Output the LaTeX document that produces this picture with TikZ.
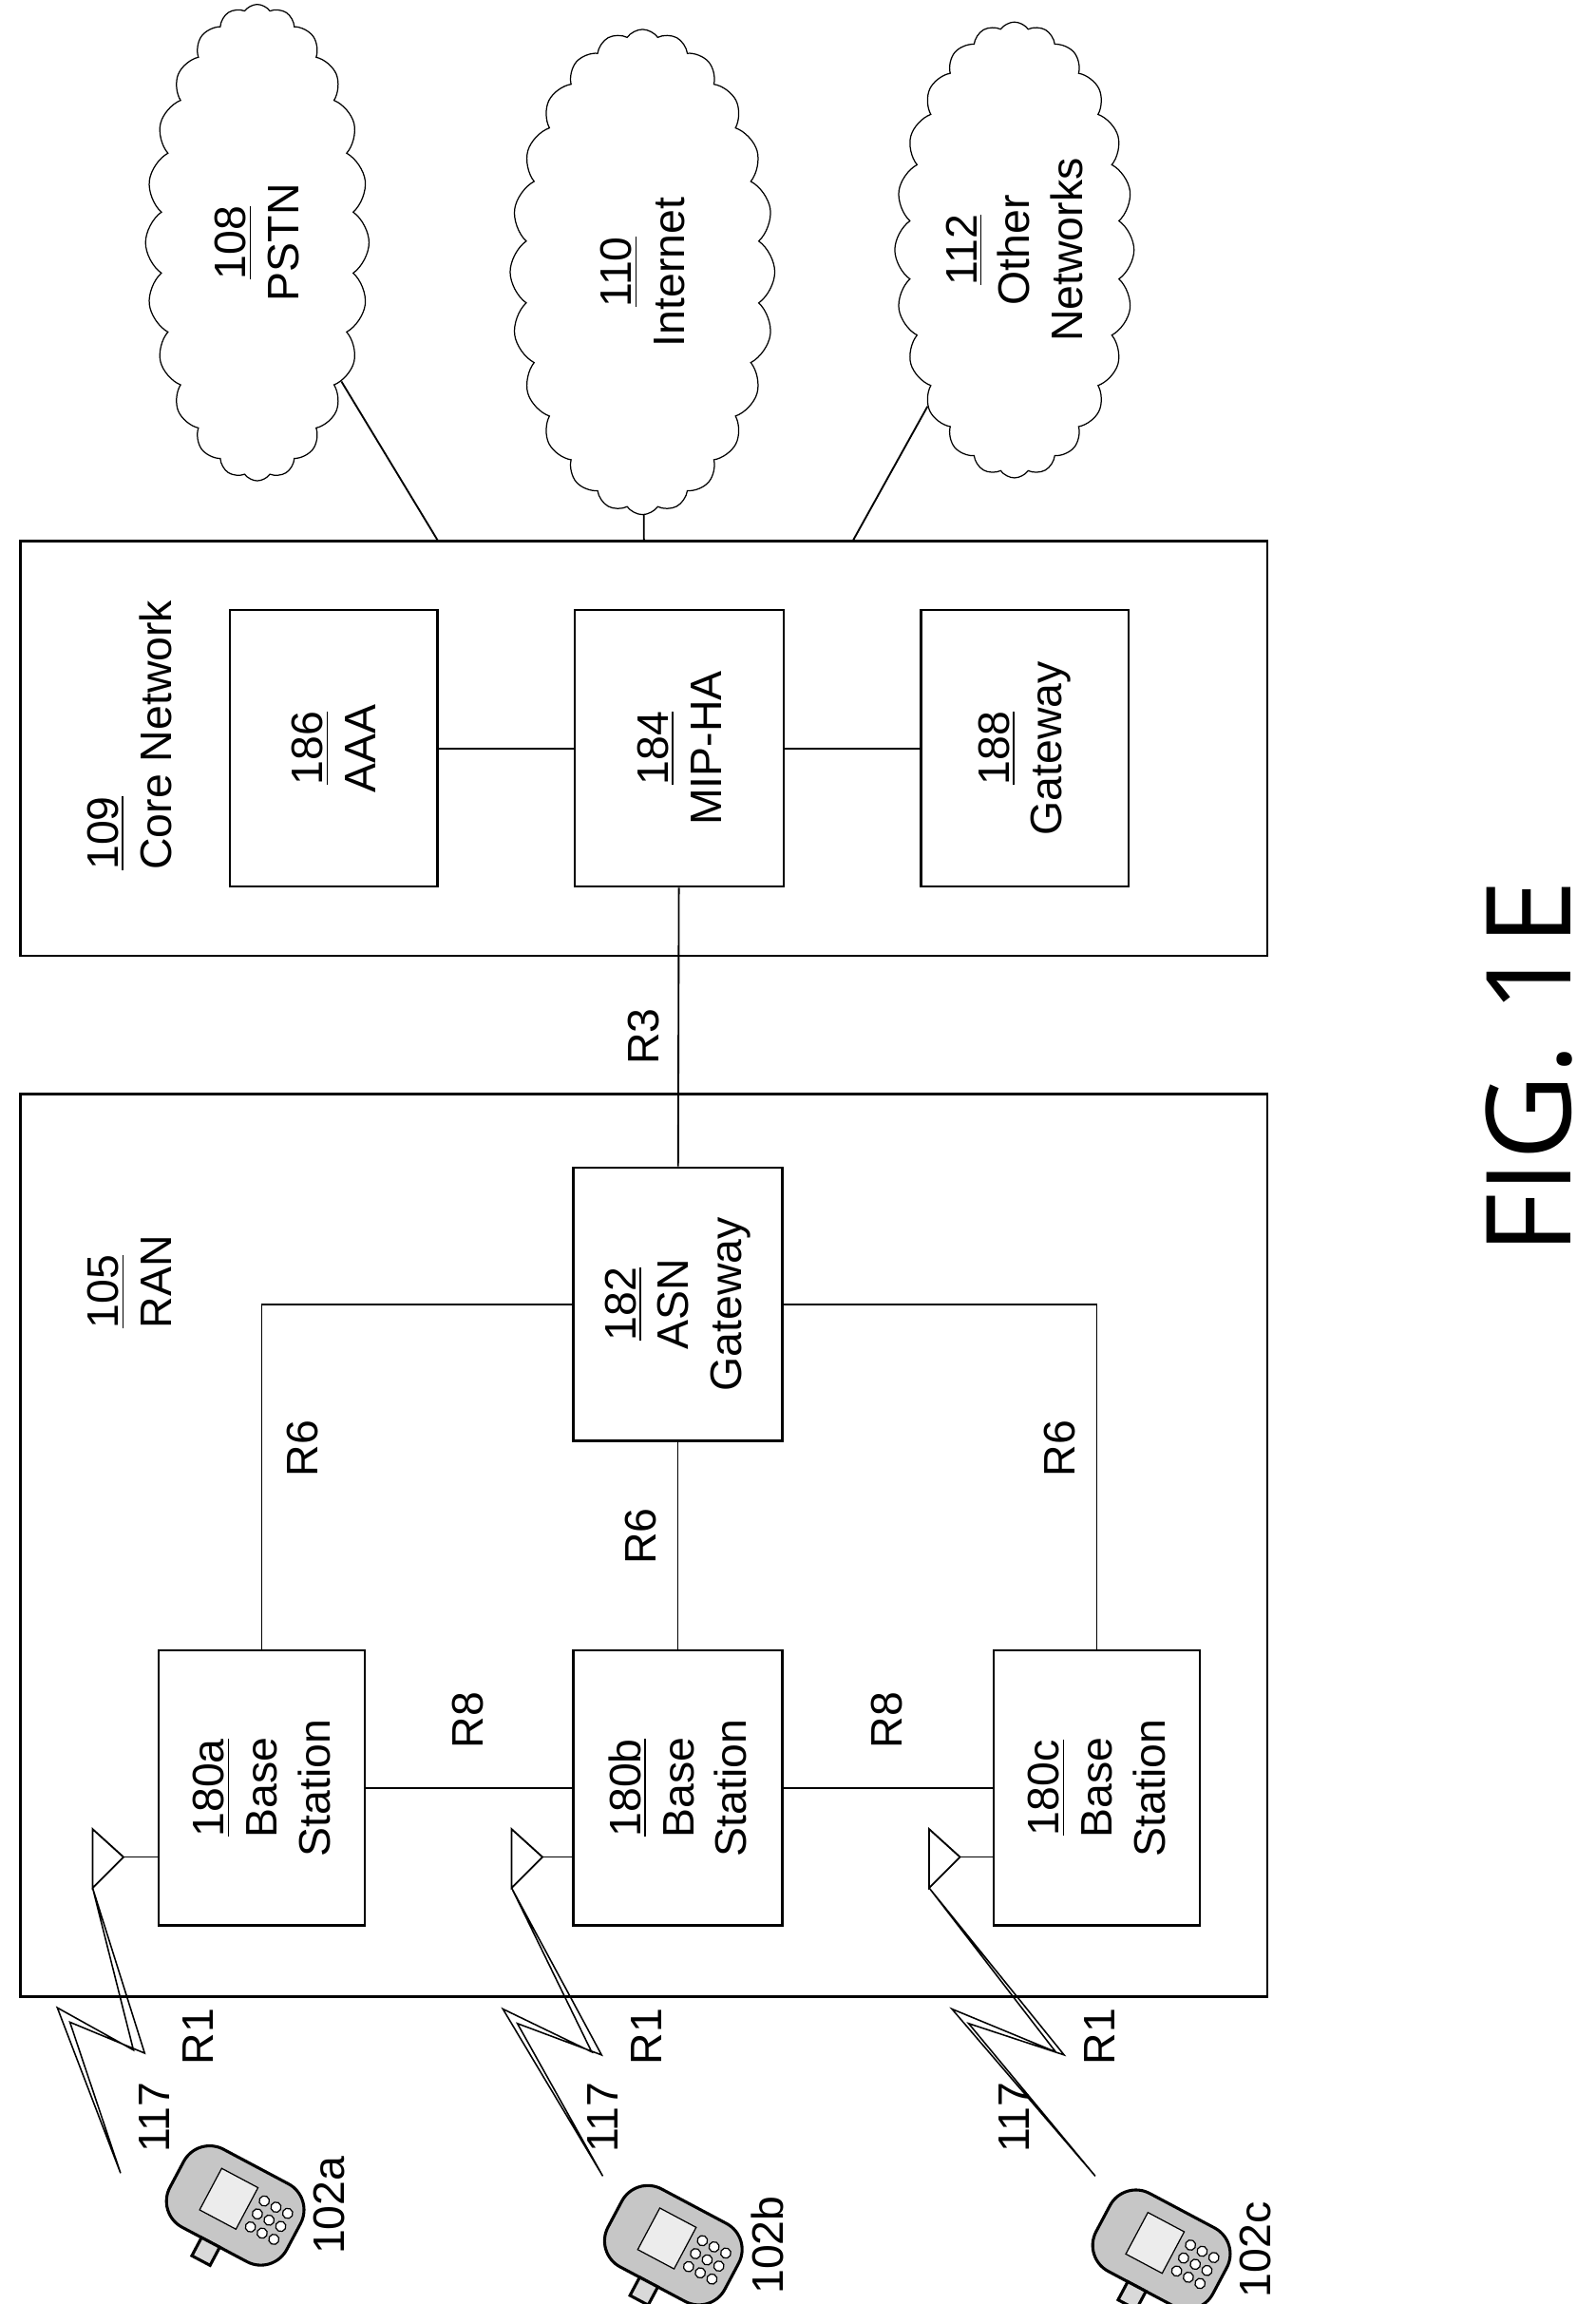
\documentclass[tikz,border=0pt]{standalone}
\usepackage{fontspec}
\setmainfont{Liberation Sans}
\newfontfamily\figfont{Open Sans}
\usetikzlibrary{shapes.symbols,calc}
\begin{document}
\begin{tikzpicture}[x=0.5pt,y=-0.5pt,
    box/.style={draw,line width=0.8pt,rotate=90,font=\fontsize{15}{18}\selectfont,align=center,inner sep=0pt},
    lbl/.style={rotate=90,font=\fontsize{15}{18}\selectfont,align=center},
    net/.style={cloud,draw,cloud puffs=24,cloud puff arc=110,cloud ignores aspect,rotate=90,font=\fontsize{15}{18}\selectfont,align=center},
    wire/.style={line width=0.6pt}]
    \useasboundingbox (0,0) rectangle (1085,1567);

    % outer boxes
    \draw[line width=0.8pt] (14,744) rectangle (862,1358);
    \draw[line width=0.8pt] (14,368) rectangle (862,650);
    \node[lbl,align=left] at (88,500) {\underline{109}\\Core Network};
    \node[lbl,align=left] at (88,872) {\underline{105}\\RAN};

    % core network
    \node[box,minimum width=94pt,minimum height=70.5pt] (aaa) at (227,509) {\underline{186}\\AAA};
    \node[box,minimum width=94pt,minimum height=71pt] (mip) at (462,509) {\underline{184}\\MIP-HA};
    \node[box,minimum width=94pt,minimum height=70.5pt] (gw) at (697,509) {\underline{188}\\Gateway};
    \draw[wire] (aaa) -- (mip);
    \draw[wire] (mip) -- (gw);

    % RAN
    \node[box,minimum width=93pt,minimum height=71pt] (asn) at (461,887) {\underline{182}\\ASN\\Gateway};
    \node[box,minimum width=93.5pt,minimum height=70pt] (bsa) at (178,1216) {\underline{180a}\\Base\\Station};
    \node[box,minimum width=93.5pt,minimum height=71pt] (bsb) at (461,1216) {\underline{180b}\\Base\\Station};
    \node[box,minimum width=93.5pt,minimum height=70pt] (bsc) at (746,1216) {\underline{180c}\\Base\\Station};

    \draw[wire] (mip) -- (asn);
    \node[lbl] at (438,705) {R3};
    \draw[wire] (asn.north) -| (bsa.east);
    \draw[wire] (asn) -- (bsb);
    \draw[wire] (asn.south) -| (bsc.east);
    \node[lbl] at (206,985) {R6};
    \node[lbl] at (436,1045) {R6};
    \node[lbl] at (721,985) {R6};
    \draw[wire] (bsa) -- (bsb);
    \draw[wire] (bsb) -- (bsc);
    \node[lbl] at (318,1170) {R8};
    \node[lbl] at (603,1170) {R8};

    % clouds
    \node[net,minimum width=162pt,minimum height=76pt] (pstn) at (175,165) {\underline{108}\\PSTN};
    \node[net,minimum width=165pt,minimum height=90pt] (inet) at (437,185) {\underline{110}\\Internet};
    \node[net,minimum width=155pt,minimum height=75pt] (oth) at (690,170) {\underline{112}\\Other\\Networks};
    \coordinate (cpa) at (298,368);
    \coordinate (cpb) at (438,368);
    \coordinate (cpc) at (580,368);
    \draw[wire] (cpa) -- (pstn);
    \draw[wire] (cpb) -- (inet);
    \draw[wire] (cpc) -- (oth);

    % antennas, links and phones
    \foreach \n/\bs/\ax/\ex/\ey/\lx/\px/\py/\tag in {a/bsa/63/82/1478/105/160/1500/102a,
        b/bsb/348/410/1480/410/458/1527/102b,
        c/bsc/632/745/1480/690/790/1530/102c}{
      \coordinate (tip\n) at (\ax,1284);
      \draw[wire] (\ax,1244) -- (\ax+21,1263) -- (tip\n) -- cycle;
      \draw[wire] (\ax+21,1263) -- (\bs.north |- 0,1263);
      \draw[line width=0.5pt] (tip\n) -- ($(tip\n)!0.6!(\ex,\ey)+(24,-4)$) -- ($(tip\n)!0.45!(\ex,\ey)+(-24,4)$) -- (\ex,\ey)
          -- ($(tip\n)!0.42!(\ex,\ey)+(-32,0)$) -- ($(tip\n)!0.62!(\ex,\ey)+(16,-10)$) -- cycle;
      \node[lbl] at (\lx,1440) {117};
      \begin{scope}[shift={(\px,\py)},rotate=-28]
        \draw[line width=1pt,fill=gray!45,rounded corners=10] (-45,-30) rectangle (45,30);
        \draw[fill=gray!15] (-20,-18) rectangle (8,14);
        \foreach \i in {0,1,2}{\foreach \j in {0,1,2}{
          \draw[fill=white] (16+\i*9,-12+\j*10) circle (3.5);}}
        \draw[line width=1pt,fill=gray!30] (-10,30) rectangle (4,44);
      \end{scope}
      \node[lbl] at (\px+64,\py) {\tag};
    }
    \node[lbl] at (135,1385) {R1};
    \node[lbl] at (440,1385) {R1};
    \node[lbl] at (748,1385) {R1};

    \node[rotate=90,font=\figfont\fontsize{40}{46}\selectfont] (fig) at (1040,726) {FIG. 1E};
\end{tikzpicture}
\end{document}
